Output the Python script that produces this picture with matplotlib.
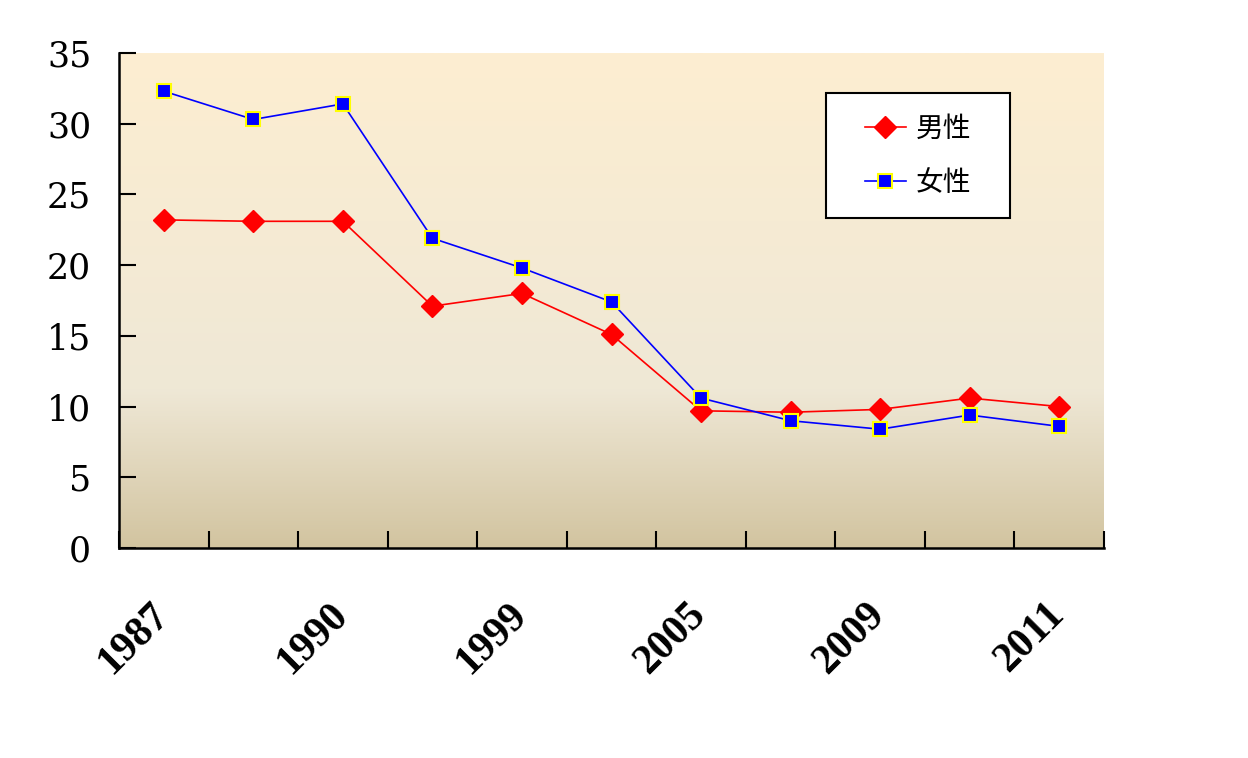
import matplotlib.pyplot as plt
import numpy as np
from matplotlib.colors import LinearSegmentedColormap
from matplotlib.patches import Rectangle

plt.rcParams['font.family'] = ['Noto Sans CJK SC', 'DejaVu Sans']

# data
n_cat = 11
year_labels = ['1987', '1990', '1999', '2005', '2009', '2011']
label_pos = [0, 2, 4, 6, 8, 10]
male = [23.2, 23.1, 23.1, 17.1, 18.0, 15.1, 9.7, 9.6, 9.8, 10.6, 10.0]
female = [32.3, 30.3, 31.4, 21.9, 19.8, 17.4, 10.6, 9.0, 8.4, 9.4, 8.6]

W, H = 1248, 758
fig = plt.figure(figsize=(W/100, H/100), dpi=100)
ax = fig.add_axes([119/W, 1-548/H, (1104-119)/W, (548-53)/H])

# gradient background
cmap = LinearSegmentedColormap.from_list('bg', [(0, '#d2c4a0'), (0.32, '#efe8d6'), (1, '#fdeed1')])
grad = np.linspace(0, 1, 256).reshape(-1, 1)
ax.imshow(grad, extent=[-0.5, 10.5, 0, 35], origin='lower', aspect='auto', cmap=cmap, zorder=0)

x = np.arange(n_cat)
ax.plot(x, male, color='red', lw=1.2, marker='D', markersize=11,
        markerfacecolor='red', markeredgecolor='red', label='男性', zorder=3)
ax.plot(x, female, color='blue', lw=1.2, marker='s', markersize=9.5,
        markerfacecolor='blue', markeredgecolor='yellow', markeredgewidth=1.5, label='女性', zorder=4)

ax.set_xlim(-0.5, 10.5)
ax.set_ylim(0, 35)
ax.set_yticks(range(0, 36, 5))
ax.set_yticklabels([str(v) for v in range(0, 36, 5)], family='DejaVu Serif', fontsize=25)

ax.set_xticks(np.arange(-0.5, 11, 1))
ax.set_xticklabels([])
# labels sit a little right of the category centre in the original
ax.set_xticks(np.array(label_pos) + 0.14, minor=True)
ax.set_xticklabels(year_labels, minor=True, rotation=45, ha='right', va='top',
                   family='Liberation Serif', fontweight='bold', fontsize=30)
ax.tick_params(axis='x', which='minor', length=0, pad=34)
ax.tick_params(axis='x', which='major', direction='in', length=12, width=1.5)
ax.tick_params(axis='y', direction='in', length=12, width=1.5, pad=20)

for s in ['top', 'right']:
    ax.spines[s].set_visible(False)
for s in ['left', 'bottom']:
    ax.spines[s].set_linewidth(1.8)

# legend box
ax.add_patch(Rectangle((826/W, 1-218/H), (1010-826)/W, (218-93)/H,
                       transform=fig.transFigure, facecolor='white',
                       edgecolor='black', linewidth=1.5, zorder=5, clip_on=False))
leg = ax.legend(loc='center', bbox_to_anchor=(918/W, 1-156/H),
                bbox_transform=fig.transFigure, fontsize=20, frameon=False,
                borderpad=0, labelspacing=0.85,
                handlelength=1.5, handletextpad=0.35, borderaxespad=0)
leg.set_zorder(6)

fig.savefig('out.png', dpi=100)
